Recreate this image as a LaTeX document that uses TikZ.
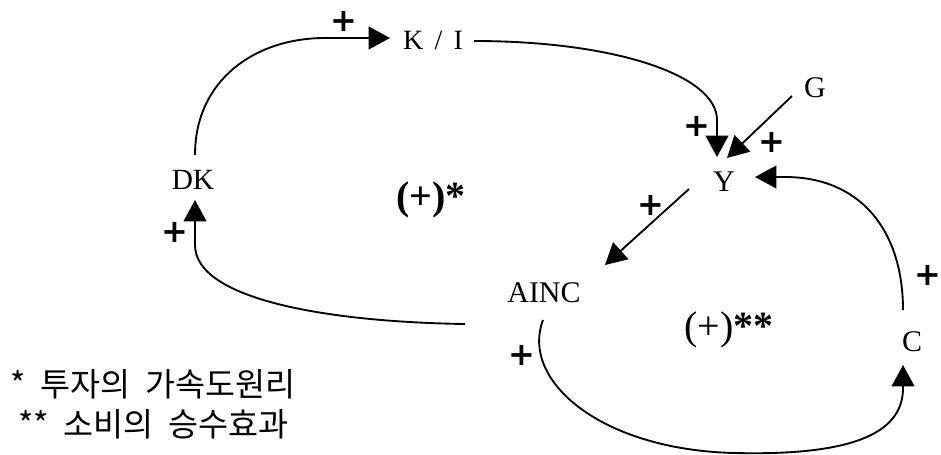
\documentclass[tikz,border=0pt]{standalone}
\usepackage{fontspec}
\setmainfont{Liberation Serif}
\newfontfamily\kofont{Noto Sans CJK KR}
\newfontfamily\signfont{DejaVu Sans}
\usepackage{tikz}
\usetikzlibrary{calc,arrows.meta}
\tikzset{
  var/.style={font=\fontsize{22.5}{25}\selectfont,inner sep=0pt},
  link/.style={line width=1.4pt,-{Triangle[length=16pt,width=17pt]}},
  sign/.style={font=\signfont\bfseries\fontsize{24}{24}\selectfont,inner sep=0pt},
  looplabel/.style={font=\fontsize{30}{32}\selectfont,inner sep=0pt},
  note/.style={font=\kofont\fontsize{24.5}{27}\selectfont,anchor=west,inner sep=0pt}
}

\begin{document}
\begin{tikzpicture}[x=0.75pt,y=-0.75pt]
    \useasboundingbox (0,0) rectangle (941,454);
    % variables
    \node[var,font=\fontsize{21}{24}\selectfont] (ki) at (433,40) {K\hspace{0.4em}/\hspace{0.4em}I};
    \node[var,font=\fontsize{22}{24}\selectfont] (dk) at (193,180) {DK};
    \node[var] (g) at (815,88) {G};
    \node[var] (y) at (724,182) {Y};
    \node[var] (ainc) at (544,293) {AINC};
    \node[var] (c) at (912,342) {C};
    % loop labels
    \node[looplabel] (loopa) at (431,200) {\textbf{(+)*}};
    \node[looplabel] (loopb) at (729,330) {(+)\textbf{**}};
    % links
    \draw[link] ($(dk)+(2,-25)$) .. controls +(0,-75) and +(-70,0) .. ($(ki)+(-108,-2)$) -- ($(ki)+(-43,-2)$);
    \draw[link] ($(ki)+(41,1)$) .. controls +(140,0) and +(0,-45) .. ($(y)+(-7,-62)$) -- ($(y)+(-7,-25)$);
    \draw[link] ($(g)+(-23,8)$) -- ($(y)+(3,-24)$);
    \draw[link] ($(c)+(-9,-32)$) .. controls +(0,-80) and +(75,0) .. ($(y)+(61,-5)$) -- ($(y)+(31,-5)$);
    \draw[link] ($(y)+(-35,7)$) -- ($(ainc)+(61,-28)$);
    \draw[link] ($(ainc)+(-1,27)$) .. controls +(-23,60) and +(-135,-3) .. ($(ainc)+(191,160)$)
      .. controls +(125,3) and +(0,42) .. ($(c)+(-9,46)$) -- ($(c)+(-9,23)$);
    \draw[link] ($(ainc)+(-79,31)$) .. controls +(-135,-2) and +(0,55) .. ($(dk)+(2,65)$) -- ($(dk)+(2,20)$);
    % polarities
    \node[sign] (s1) at (344,21) {+};
    \node[sign] (s2) at (697,126) {+};
    \node[sign] (s3) at (772,142) {+};
    \node[sign] (s4) at (651,205) {+};
    \node[sign] (s5) at (928,275) {+};
    \node[sign] (s6) at (522,355) {+};
    \node[sign] (s7) at (175,232) {+};
    % notes
    \node[note] (n1) at (10,384) {*\hspace{0.45em}투자의\hspace{0.45em}가속도원리};
    \node[note] (n2) at (18,424) {**\hspace{0.45em}소비의\hspace{0.45em}승수효과};
\end{tikzpicture}
\end{document}
